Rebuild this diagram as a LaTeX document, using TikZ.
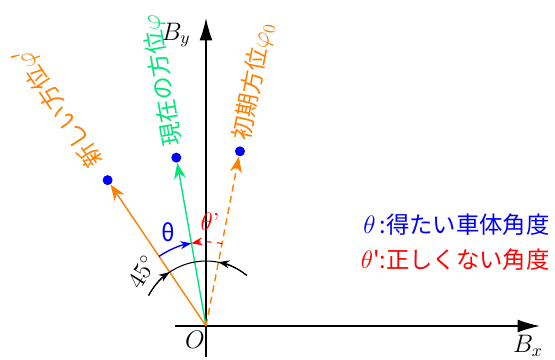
\documentclass[tikz,border=0pt]{standalone}
\usepackage{fontspec}
\newfontfamily\jpfont[Scale=0.95]{Noto Sans CJK JP}
\usepackage{xcolor}
\usepackage{tikz}
\usetikzlibrary{arrows.meta,positioning,calc}
\definecolor{dirorange}{RGB}{255,128,0}
\definecolor{dirgreen}{RGB}{0,230,120}

\begin{document}
\begin{tikzpicture}[
  x=0.02cm, y=0.02cm,
  font=\fontsize{14}{17}\selectfont,
  axis/.style={-{Latex[length=4.5mm,width=2.6mm]}, line width=0.8pt},
  dir/.style={-{Stealth[length=3.2mm,width=2.4mm]}, line width=0.8pt},
  tipdot/.style={circle, fill=blue, inner sep=0pt, minimum size=2mm},
  dirlabel/.style={anchor=west, inner sep=0pt, font=\fontsize{14}{17}\selectfont\jpfont},
  anglearc/.style={-{Stealth[length=2.2mm,width=1.6mm]}, line width=0.6pt},
  legend/.style={inner sep=0pt, font=\fontsize{14}{17}\selectfont\jpfont}
]
  \useasboundingbox (-206,-33) rectangle (349,326);

  % axes
  \coordinate (o) at (0,0);
  \coordinate (x_start) at (-31,0);
  \coordinate (x_end) at (334,0);
  \coordinate (y_start) at (0,-31);
  \coordinate (y_end) at (0,308);
  \draw[axis] (x_start) -- (x_end);
  \draw[axis] (y_start) -- (y_end);
  \node (l_by) at (-30,291) {$B_y$};
  \node (l_bx) at (322,-20) {$B_x$};
  \node (l_o) at (-11,-14) {$O$};

  % directions
  \node[tipdot] (p_new) at (124:3.52cm) {};
  \node[tipdot] (p_now) at (100:3.42cm) {};
  \node[tipdot] (p_init) at (79:3.56cm) {};
  \draw[dir, dirorange] (o) -- (p_new);
  \draw[dir, dirgreen] (o) -- (p_now);
  \draw[dir, dirorange, dash pattern=on 4pt off 2.5pt] (o) -- (p_init);
  \node[dirlabel, dirorange, rotate=124] (l_new) at (124:3.88cm) {新しい方位$\varphi'$};
  \node[dirlabel, dirgreen, rotate=100] (l_now) at (100:3.66cm) {現在の方位$\varphi$};
  \node[dirlabel, dirorange, rotate=79] (l_init) at (79:3.78cm) {初期方位$\varphi_0$};

  % angles
  \draw[line width=0.6pt] (152:1.3cm) arc[start angle=152, end angle=51, radius=1.3cm];
  \draw[anglearc] (152:1.3cm) arc[start angle=152, end angle=124, radius=1.3cm];
  \draw[anglearc] (51:1.3cm) arc[start angle=51, end angle=79, radius=1.3cm];
  \node[rotate=58] (l_45) at (-64,54) {45$^\circ$};
  \draw[anglearc, blue, line width=0.8pt] (124:1.68cm) arc[start angle=124, end angle=100, radius=1.68cm];
  \draw[anglearc, red, dashed] (79:1.68cm) arc[start angle=79, end angle=100, radius=1.68cm];
  \node[blue, font=\fontsize{14}{17}\selectfont\jpfont] (l_theta) at (-38,94) {θ};
  \node[red] (l_thetap) at (4,104) {$\theta$'};

  % legend
  \node[legend, blue, anchor=east] (leg_theta) at (344,101) {$\theta$\,:得たい車体角度};
  \node[legend, red, below=2.5mm of leg_theta.south east, anchor=north east] (leg_thetap) {$\theta$':正しくない角度};
\end{tikzpicture}
\end{document}
